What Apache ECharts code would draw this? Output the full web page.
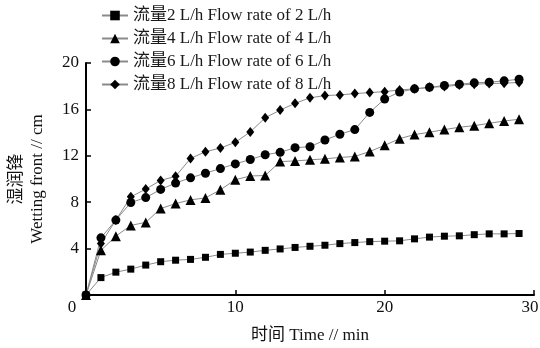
<!DOCTYPE html>
<html><head><meta charset="utf-8">
<script src="https://cdn.jsdelivr.net/npm/echarts@6/dist/echarts.min.js"></script>
<style>html,body{margin:0;padding:0;background:#fff}#c{width:540px;height:348px}</style>
</head><body><div id="c"></div>
<script>
var times = [0,1,2,3,4,5,6,7,8,9,10,11,12,13,14,15,16,17,18,19,20,21,22,23,24,25,26,27,28,29];
var flow2 = [0,1.5,1.97,2.23,2.58,2.87,3.0,3.07,3.25,3.5,3.6,3.7,3.85,3.97,4.1,4.2,4.29,4.43,4.52,4.6,4.64,4.67,4.84,4.99,5.07,5.1,5.2,5.27,5.27,5.3];
var flow4 = [0,3.85,5.07,6.0,6.26,7.45,7.88,8.2,8.37,9.07,9.94,10.26,10.3,11.5,11.56,11.65,11.74,11.86,11.94,12.37,12.9,13.48,13.83,14.03,14.26,14.46,14.6,14.8,15.0,15.15];
var flow6 = [0,4.93,6.46,7.97,8.4,9.1,9.65,10.1,10.5,10.9,11.3,11.68,12.09,12.3,12.7,12.78,13.36,13.86,14.26,15.74,16.9,17.5,17.77,17.9,18.06,18.17,18.29,18.35,18.46,18.6];
var flow8 = [0,4.45,6.46,8.46,9.13,9.88,10.23,11.77,12.35,12.67,13.16,14.06,15.28,15.94,16.52,17.0,17.19,17.25,17.36,17.45,17.53,17.68,17.77,17.9,17.97,18.1,18.17,18.23,18.26,18.32];
var seriesNames = ['流量2 L/h Flow rate of 2 L/h','流量4 L/h Flow rate of 4 L/h','流量6 L/h Flow rate of 6 L/h','流量8 L/h Flow rate of 8 L/h'];
var xTicks = [0,10,20,30];
var yTicks = [0,4,8,12,16,20];

var font = 'Liberation Serif, Noto Sans CJK SC, serif';
function pairs(v){ return times.map(function(t,i){ return [t, v[i]]; }); }
function mk(name, data, symbol, size){
  return {
    type:'line', name:name, data:pairs(data), symbol:symbol, symbolSize:size,
    showAllSymbol:true,
    lineStyle:{color:'#8a8a8a', width:1},
    itemStyle:{color:'#000', borderWidth:0},
    emphasis:{disabled:true}, animation:false, z:3
  };
}
var chart = echarts.init(document.getElementById('c'));
chart.setOption({
  animation:false,
  backgroundColor:'#fff',
  grid:{left:86, right:6, top:63, bottom:53, outerBoundsMode:'none', containLabel:false},
  legend:{
    orient:'vertical', left:96, top:2, itemWidth:26, itemHeight:12, itemGap:6,
    textStyle:{fontFamily:font, fontSize:17, color:'#1a1a1a'},
    data:seriesNames
  },
  xAxis:{
    type:'value', min:0, max:30, interval:10,
    name:'时间 Time // min', nameLocation:'middle', nameGap:32,
    nameTextStyle:{fontFamily:font, fontSize:17, color:'#111'},
    axisLine:{lineStyle:{color:'#000', width:2}},
    axisTick:{inside:true, length:5, lineStyle:{color:'#000', width:1.5}},
    axisLabel:{fontFamily:font, fontSize:17, color:'#111', margin:4,
      formatter:function(v){ return v===0 ? '{z|0}' : (v===30 ? '{e|30}' : String(v)); },
      rich:{
        z:{fontFamily:font, fontSize:17, color:'#111', padding:[0,28,0,0]},
        e:{fontFamily:font, fontSize:17, color:'#111', padding:[0,8,0,0]}
      }},
    splitLine:{show:false}
  },
  yAxis:{
    type:'value', min:0, max:20, interval:4,
    name:'湿润锋\nWetting front // cm', nameLocation:'middle', nameRotate:90, nameGap:38,
    nameTextStyle:{fontFamily:font, fontSize:17, color:'#111', lineHeight:21},
    axisLine:{lineStyle:{color:'#000', width:2}},
    axisTick:{inside:true, length:5, lineStyle:{color:'#000', width:1.5}},
    axisLabel:{fontFamily:font, fontSize:17, color:'#111', margin:7, showMinLabel:false},
    splitLine:{show:false}
  },
  series:[
    mk(seriesNames[0], flow2, 'rect', 7),
    mk(seriesNames[1], flow4, 'triangle', 10),
    mk(seriesNames[2], flow6, 'circle', 9),
    mk(seriesNames[3], flow8, 'diamond', [8,10])
  ]
});
</script></body></html>
